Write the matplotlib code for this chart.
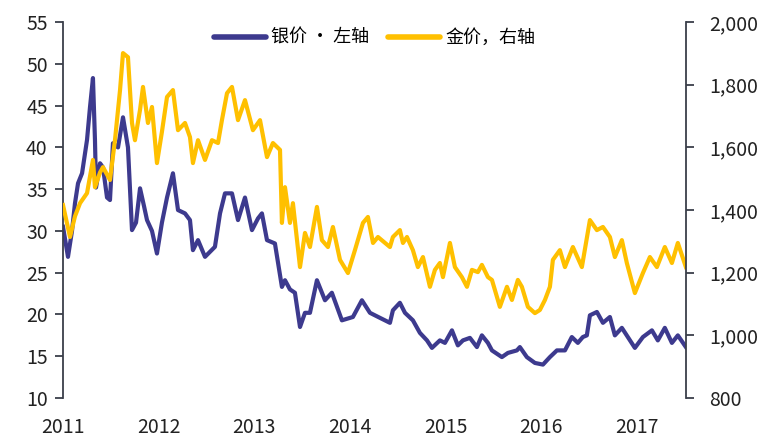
import matplotlib.pyplot as plt
from matplotlib.ticker import FuncFormatter

plt.rcParams['font.family'] = ['Noto Sans CJK SC', 'DejaVu Sans']

# 白银（美元/盎司，左轴），日期为小数年份
silver_t = [2011.000, 2011.052, 2011.094, 2011.125, 2011.157, 2011.199, 2011.251, 2011.282,
            2011.313, 2011.334, 2011.345, 2011.387, 2011.418, 2011.460, 2011.491, 2011.522,
            2011.575, 2011.627, 2011.679, 2011.721, 2011.763, 2011.805, 2011.846, 2011.878,
            2011.930, 2011.982, 2012.034, 2012.087, 2012.149, 2012.202, 2012.275, 2012.327,
            2012.358, 2012.411, 2012.484, 2012.536, 2012.588, 2012.641, 2012.693, 2012.766,
            2012.829, 2012.902, 2012.975, 2013.038, 2013.079, 2013.132, 2013.215, 2013.288,
            2013.320, 2013.372, 2013.424, 2013.477, 2013.529, 2013.581, 2013.654, 2013.738,
            2013.810, 2013.915, 2014.030, 2014.124, 2014.208, 2014.312,
            2014.417, 2014.448, 2014.521, 2014.574, 2014.657, 2014.730, 2014.804, 2014.856,
            2014.939, 2014.992, 2015.065, 2015.127, 2015.180, 2015.253, 2015.326, 2015.378,
            2015.441, 2015.483, 2015.587, 2015.650, 2015.744, 2015.775, 2015.848, 2015.932,
            2016.016, 2016.089, 2016.162, 2016.246, 2016.318, 2016.381, 2016.433,
            2016.475, 2016.507, 2016.580, 2016.643, 2016.716,
            2016.768, 2016.841, 2016.977, 2017.061, 2017.155, 2017.217, 2017.290, 2017.364,
            2017.426, 2017.510]
silver = [30.5, 26.9, 30.0, 33.3, 35.7, 36.9, 40.9, 44.8,
          48.3, 40.9, 35.2, 38.1, 37.6, 34.0, 33.7, 40.5,
          40.0, 43.6, 40.0, 30.1, 31.0, 35.1, 33.0, 31.3,
          30.0, 27.3, 31.0, 34.0, 36.9, 32.5, 32.1, 31.3,
          27.7, 28.9, 26.9, 27.5, 28.1, 32.1, 34.5, 34.5,
          31.3, 34.0, 30.1, 31.5, 32.1, 28.9, 28.5, 23.3,
          24.1, 23.0, 22.6, 18.5, 20.2, 20.2, 24.1, 21.7,
          22.6, 19.3, 19.7, 21.7, 20.2, 19.6,
          19.0, 20.5, 21.4, 20.2, 19.3, 17.8, 16.9, 16.0,
          16.9, 16.6, 18.1, 16.3, 16.9, 17.2, 16.1, 17.5,
          16.6, 15.7, 14.9, 15.4, 15.7, 16.1, 14.9, 14.2,
          14.0, 14.9, 15.7, 15.7, 17.3, 16.6, 17.3,
          17.5, 19.9, 20.3, 19.0, 19.7,
          17.5, 18.4, 16.0, 17.3, 18.1, 16.9, 18.4, 16.6,
          17.5, 16.1]

# 黄金（美元/盎司，右轴）
gold_t = [2011.000, 2011.073, 2011.125, 2011.178, 2011.251, 2011.313, 2011.334, 2011.387,
          2011.418, 2011.491, 2011.543, 2011.596, 2011.627, 2011.679, 2011.721, 2011.752,
          2011.805, 2011.836, 2011.888, 2011.930, 2011.982, 2012.034, 2012.087, 2012.149,
          2012.202, 2012.275, 2012.327, 2012.358, 2012.411, 2012.484, 2012.557, 2012.620,
          2012.661, 2012.714, 2012.766, 2012.829, 2012.902, 2012.985, 2013.059, 2013.132,
          2013.194, 2013.268, 2013.288, 2013.320, 2013.372, 2013.403, 2013.477, 2013.529,
          2013.581, 2013.654, 2013.706, 2013.769, 2013.821, 2013.895, 2013.978, 2014.051,
          2014.135, 2014.187, 2014.240, 2014.292,
          2014.417, 2014.448, 2014.521, 2014.553, 2014.595, 2014.657, 2014.709, 2014.762,
          2014.835, 2014.887, 2014.939, 2014.971, 2015.044, 2015.096, 2015.169, 2015.222,
          2015.274, 2015.336, 2015.378, 2015.441, 2015.483, 2015.566, 2015.640, 2015.692,
          2015.754, 2015.796, 2015.859, 2015.932, 2015.984, 2016.037, 2016.089, 2016.120,
          2016.193, 2016.246, 2016.329, 2016.423,
          2016.507, 2016.580, 2016.643, 2016.716, 2016.768, 2016.841, 2016.893,
          2016.977, 2017.061, 2017.134, 2017.207, 2017.290, 2017.364, 2017.426, 2017.510]
gold = [1416, 1314, 1380, 1422, 1454, 1560, 1473, 1520,
        1537, 1496, 1623, 1783, 1901, 1888, 1678, 1623,
        1720, 1793, 1678, 1729, 1550, 1650, 1761, 1783,
        1655, 1678, 1633, 1550, 1623, 1560, 1623, 1614,
        1687, 1773, 1793, 1687, 1751, 1655, 1687, 1569,
        1614, 1592, 1359, 1473, 1359, 1422, 1218, 1327,
        1282, 1410, 1304, 1282, 1346, 1241, 1199, 1272,
        1359, 1378, 1295, 1314,
        1282, 1314, 1336, 1295, 1314, 1272, 1218, 1250,
        1155, 1209, 1231, 1186, 1295, 1218, 1186, 1155,
        1209, 1202, 1225, 1186, 1177, 1091, 1155, 1113,
        1177, 1155, 1091, 1071, 1081, 1113, 1155, 1241,
        1272, 1218, 1282, 1218,
        1368, 1336, 1346, 1314, 1250, 1304, 1231,
        1135, 1199, 1250, 1218, 1282, 1231, 1295, 1218]

years = [2011, 2012, 2013, 2014, 2015, 2016, 2017]
silver_ticks = [10, 15, 20, 25, 30, 35, 40, 45, 50, 55]
gold_ticks = [800, 1000, 1200, 1400, 1600, 1800, 2000]

silver_color = '#3D3A8E'
gold_color = '#FFC000'
spine_color = '#3A3F4A'
text_color = '#222222'

fig = plt.figure(figsize=(7.75, 4.42), dpi=100)
ax = fig.add_axes([0.0813, 0.0995, 0.8037, 0.8505])
ax2 = ax.twinx()

l1, = ax.plot(silver_t, silver, color=silver_color, lw=3.0, solid_joinstyle='round',
              label='银价 · 左轴')
l2, = ax2.plot(gold_t, gold, color=gold_color, lw=3.0, solid_joinstyle='round',
               label='金价，右轴')

ax.set_xlim(2011, 2017.51)
ax.set_ylim(10, 55)
ax2.set_ylim(800, 2000)
ax.set_xticks(years)
ax.set_xticklabels([str(y) for y in years])
ax.set_yticks(silver_ticks)
ax2.set_yticks(gold_ticks)
ax2.yaxis.set_major_formatter(FuncFormatter(lambda v, p: f'{v:,.0f}'))

for a in (ax, ax2):
    for s in ('top', 'bottom'):
        a.spines[s].set_visible(False)
    a.spines['left'].set_color(spine_color)
    a.spines['right'].set_color(spine_color)
    a.spines['left'].set_linewidth(1.3)
    a.spines['right'].set_linewidth(1.3)
ax.spines['right'].set_visible(False)
ax2.spines['left'].set_visible(False)

ax.tick_params(axis='x', length=0, pad=14, labelsize=14, labelcolor=text_color)
ax.tick_params(axis='y', length=6, width=1.3, color=spine_color, pad=5,
               labelsize=14, labelcolor=text_color)
ax2.tick_params(axis='y', length=6, width=1.3, color=spine_color, pad=11,
                labelsize=14, labelcolor=text_color)

leg = ax2.legend(handles=[l1, l2], loc='upper center', bbox_to_anchor=(0.5, 1.025),
                 ncol=2, frameon=False, fontsize=13, handlelength=2.9,
                 handletextpad=0.3, columnspacing=1.0)
for line in leg.get_lines():
    line.set_linewidth(4)
    line.set_solid_capstyle('round')

fig.savefig('out.png', dpi=100)
